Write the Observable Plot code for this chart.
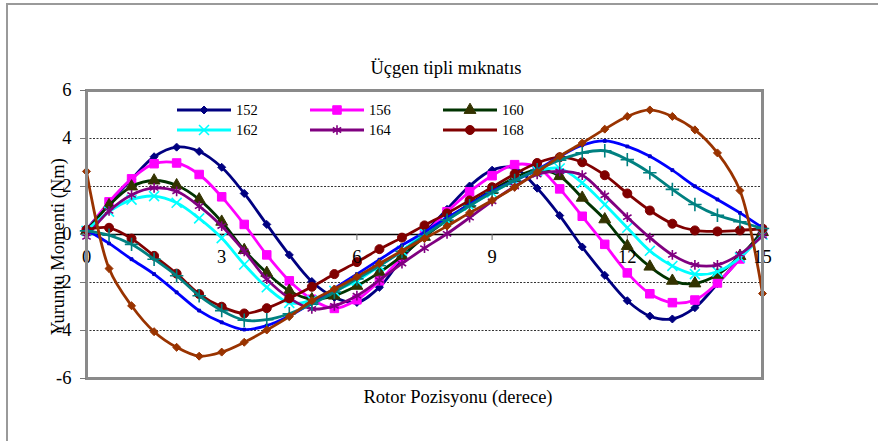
<!DOCTYPE html>
<html><head><meta charset="utf-8">
<script src="https://cdn.jsdelivr.net/npm/d3@7"></script>
<script src="https://cdn.jsdelivr.net/npm/@observablehq/plot@0.6"></script>
<style>
body{margin:0;background:#fff;overflow:hidden;font-family:"Liberation Serif",serif;}
#wrap{position:relative;width:878px;height:441px;overflow:hidden;}
#border{position:absolute;left:6px;top:3px;width:900px;height:460px;border-top:2px solid #9a9a9a;border-left:2px solid #9a9a9a;}
.t{position:absolute;font-family:"Liberation Serif",serif;font-size:18.5px;line-height:20px;white-space:nowrap;transform:translateX(-50%);color:#000;}
#legend{position:absolute;left:151px;top:97px;width:399px;height:46px;background:#fff;}
#chart text{font-family:"Liberation Serif",serif;}
</style></head><body>
<div id="wrap">
<div id="border"></div>
<div id="chart" style="position:absolute;left:0;top:0"></div>
<div class="t" style="left:446px;top:58px">Üçgen tipli mıknatıs</div>
<div class="t" style="left:458px;top:387px">Rotor Pozisyonu (derece)</div>
<div id="legend"></div>
</div>
<script>
// ---- data ----
const positions = [0,0.5,1,1.5,2,2.5,3,3.5,4,4.5,5,5.5,6,6.5,7,7.5,8,8.5,9,9.5,10,10.5,11,11.5,12,12.5,13,13.5,14,14.5,15];
const s152 = [0.2,1.3,2.3,3.24,3.64,3.46,2.8,1.71,0.42,-0.85,-1.96,-2.62,-2.83,-2.2,-1.0,0.05,1.05,2.02,2.68,2.77,1.93,0.79,-0.52,-1.7,-2.76,-3.4,-3.52,-3.05,-2.05,-1.0,0.15];
const s156 = [0.15,1.36,2.32,2.95,2.98,2.5,1.57,0.42,-0.85,-1.93,-2.7,-3.08,-2.72,-1.93,-0.95,0.0,0.95,1.78,2.45,2.91,2.8,1.9,0.76,-0.41,-1.6,-2.47,-2.84,-2.73,-2.02,-1.02,0.1];
const s160 = [0.15,1.22,2.0,2.25,2.05,1.46,0.53,-0.65,-1.6,-2.35,-2.7,-2.55,-2.14,-1.58,-0.89,-0.1,0.6,1.28,1.85,2.35,2.7,2.43,1.53,0.63,-0.48,-1.34,-1.93,-2.04,-1.68,-0.9,0.1];
const s162 = [0.15,0.95,1.45,1.6,1.32,0.67,-0.15,-1.25,-2.2,-2.85,-2.75,-2.35,-1.93,-1.31,-0.68,0.05,0.6,1.2,1.75,2.25,2.65,2.75,2.15,1.25,0.28,-0.68,-1.31,-1.65,-1.55,-0.96,0.0];
const s164 = [-0.1,0.98,1.65,1.94,1.8,1.18,0.35,-0.7,-1.86,-2.65,-3.1,-2.97,-2.55,-1.9,-1.21,-0.57,0.03,0.7,1.38,2.0,2.5,2.63,2.47,1.63,0.72,-0.13,-0.85,-1.27,-1.27,-0.82,-0.06];
const s168 = [0.2,0.28,-0.17,-0.89,-1.63,-2.48,-3.01,-3.29,-3.07,-2.66,-2.18,-1.65,-1.15,-0.61,-0.13,0.38,0.88,1.42,1.97,2.52,2.98,3.22,3.01,2.47,1.71,1.0,0.45,0.17,0.13,0.17,0.25];
const sBlue = [0.2,-0.37,-1.03,-1.65,-2.41,-3.17,-3.66,-3.96,-3.8,-3.4,-2.85,-2.25,-1.65,-1.05,-0.45,0.1,0.7,1.25,1.8,2.25,2.7,3.25,3.72,3.9,3.67,3.26,2.68,2.01,1.46,0.9,0.28];
const sTeal = [0.15,-0.03,-0.41,-1.03,-1.72,-2.55,-3.17,-3.57,-3.55,-3.3,-2.9,-2.4,-1.85,-1.3,-0.7,-0.05,0.6,1.2,1.75,2.25,2.7,3.1,3.4,3.49,3.12,2.57,1.88,1.25,0.8,0.53,0.25];
const sOrange = [2.63,-1.42,-2.97,-4.05,-4.7,-5.07,-4.9,-4.49,-3.98,-3.42,-2.76,-2.27,-1.76,-1.21,-0.68,-0.17,0.35,0.9,1.42,1.97,2.59,3.26,3.81,4.39,4.92,5.19,4.92,4.36,3.4,1.83,-2.46];

const legendLabels = ["152","156","160","162","164","168"];
const xTickValues = [0,3,6,9,12,15];
const yTickValues = [-6,-4,-2,0,2,4,6];
const gridValues = [-4,-2,2,4];
const titleY = "Yuruntu Momenti (Nm)";

// ---- styling (not data) ----
const series = [
  {name:"152", values:s152, line:"#000080", sym:"diamond2", fill:"#000080", stroke:"#000080", r:3.6, sw:1},
  {name:"156", values:s156, line:"#ff00ff", sym:"square", fill:"#ff00ff", stroke:"#ff00ff", r:4.8, sw:1},
  {name:"160", values:s160, line:"#003300", sym:"triangle", fill:"#333300", stroke:"#333300", r:4.4, sw:1},
  {name:"162", values:s162, line:"#00ffff", sym:"times", fill:"none", stroke:"#00ffff", r:4.6, sw:1.6},
  {name:"164", values:s164, line:"#800080", sym:"asterisk", fill:"none", stroke:"#800080", r:4.6, sw:1.6},
  {name:"168", values:s168, line:"#800000", sym:"circle", fill:"#800000", stroke:"#800000", r:4.5, sw:1},
  {name:"b", values:sBlue, line:"#0000ff", sym:"square", fill:"#0000cc", stroke:"#0000cc", r:1.6, sw:1},
  {name:"t", values:sTeal, line:"#008080", sym:"plus", fill:"none", stroke:"#008080", r:4.4, sw:1.6},
  {name:"o", values:sOrange, line:"#993300", sym:"diamond2", fill:"#993300", stroke:"#993300", r:3.6, sw:1}
];

const FONT = "Liberation Serif";
const marks = [
  Plot.ruleY(gridValues, {stroke:"#333", strokeWidth:1, strokeDasharray:"2,1.5"}),
  Plot.ruleY([0], {stroke:"#000", strokeWidth:1.5}),
  Plot.ruleX(xTickValues, {x:d=>d, y1:0, y2:-0.25, stroke:"#666", strokeWidth:1})
];
for (const s of series) {
  const data = positions.map((p,i)=>({x:p, y:s.values[i]}));
  marks.push(Plot.line(data, {x:"x", y:"y", stroke:s.line, strokeWidth:2.8, curve:"catmull-rom"}));
  marks.push(Plot.dot(data, {x:"x", y:"y", symbol:()=>s.sym, r:s.r, fill:s.fill, stroke:s.stroke, strokeWidth:s.sw}));
}
marks.push(
  Plot.text(xTickValues, {x:d=>d, y:0, text:d=>String(d), dy:22.5, fontSize:18.5, fontFamily:FONT, fill:"#000"}),
  Plot.frame({stroke:"#8a8a8a", strokeWidth:3}),
  Plot.axisY(yTickValues, {tickSize:6, tickPadding:9, label:null, fontSize:18.5, fontFamily:FONT, stroke:"#777", tickFormat:d=>String(d)}),
  Plot.text([titleY], {frameAnchor:"left", textAnchor:"middle", rotate:-90, dx:-28, dy:12, fontSize:18.5, fontFamily:FONT, fill:"#000"})
);

const chart = Plot.plot({
  width:878, height:441,
  marginLeft:86, marginRight:116, marginTop:90, marginBottom:63,
  x:{domain:[0,15], axis:null},
  y:{domain:[-6,6], axis:null},
  symbol:{type:"identity"},
  style:{fontFamily:FONT, fontSize:"18.5px", background:"transparent", overflow:"visible"},
  marks
});
document.getElementById("chart").appendChild(chart);

// ---- legend ----
const symMap = {diamond2:d3.symbolDiamond2, square:d3.symbolSquare, triangle:d3.symbolTriangle, times:d3.symbolTimes, asterisk:d3.symbolAsterisk, circle:d3.symbolCircle};
const lsvg = d3.select("#legend").append("svg").attr("width",399).attr("height",46);
legendLabels.forEach((lab,i)=>{
  const s = series.find(d=>d.name===lab);
  const col = i%3, row = Math.floor(i/3);
  const ox = 26 + col*133, oy = 13 + row*20;
  const g = lsvg.append("g").attr("transform",`translate(${ox},${oy})`);
  g.append("line").attr("x1",0).attr("x2",54).attr("y1",0).attr("y2",0).attr("stroke",s.line).attr("stroke-width",3);
  g.append("path").attr("d", d3.symbol(symMap[s.sym], s.r*s.r*Math.PI)()).attr("transform","translate(27,0)")
    .attr("fill",s.fill).attr("stroke",s.stroke).attr("stroke-width",s.sw);
  g.append("text").attr("x",59).attr("y",0).attr("dy","0.35em")
    .attr("font-family",FONT).attr("font-size",14.5).text(lab);
});
</script>
</body></html>
